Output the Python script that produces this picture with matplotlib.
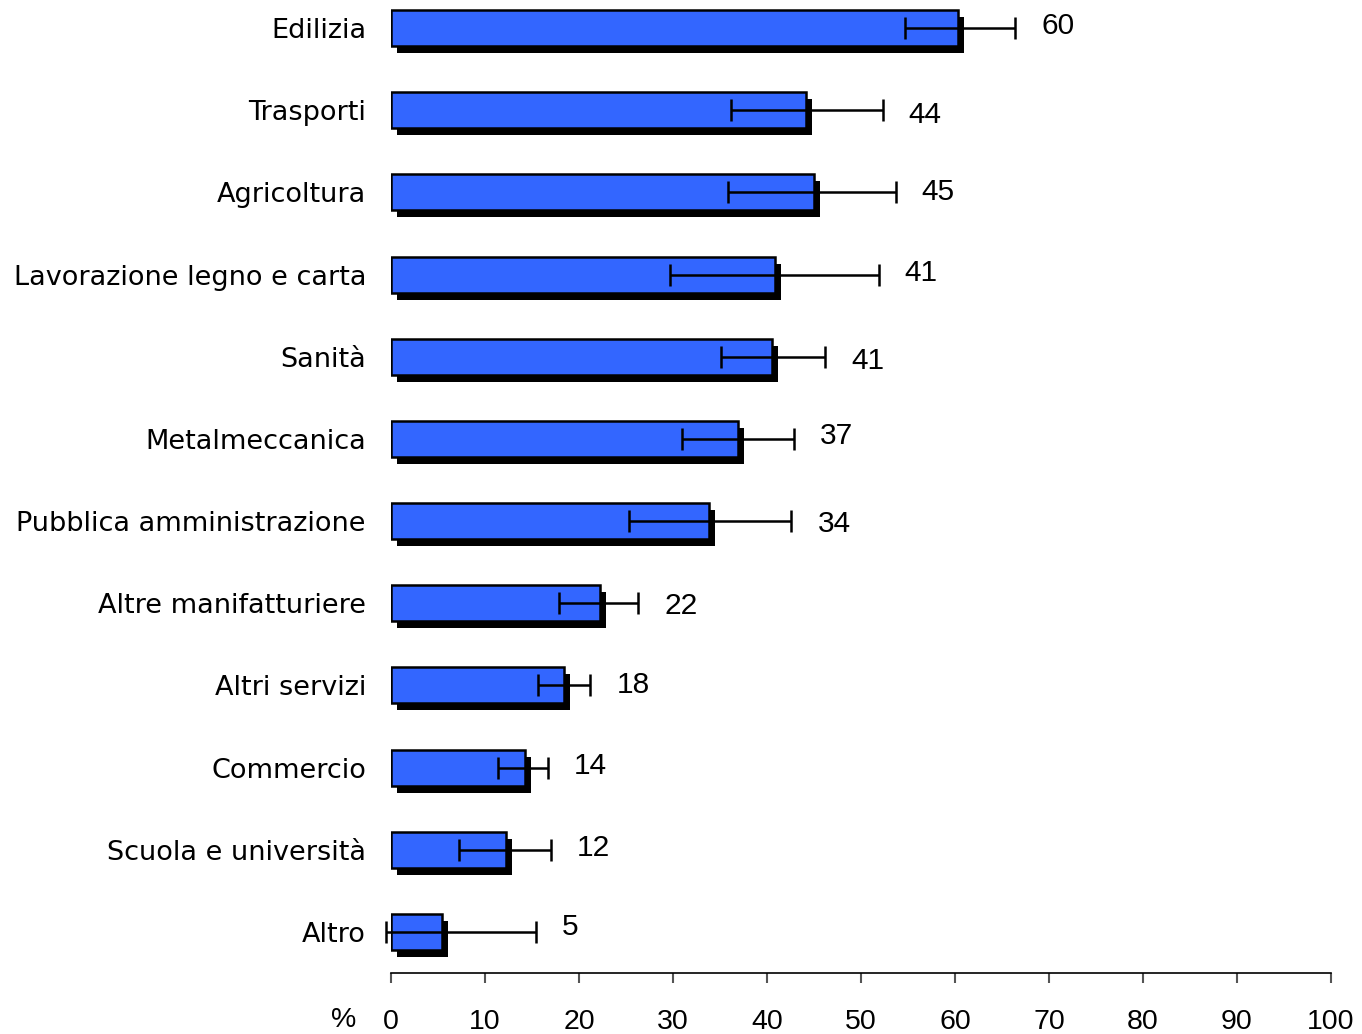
import matplotlib
matplotlib.use("Agg")
import matplotlib.pyplot as plt
from matplotlib.transforms import ScaledTranslation

categories = ["Edilizia", "Trasporti", "Agricoltura", "Lavorazione legno e carta",
              "Sanità", "Metalmeccanica", "Pubblica amministrazione",
              "Altre manifatturiere", "Altri servizi", "Commercio",
              "Scuola e università", "Altro"]
values = [60.3, 44.1, 45.0, 40.9, 40.5, 36.9, 33.8, 22.2, 18.4, 14.3, 12.2, 5.4]
err_low = [54.7, 36.2, 35.9, 29.7, 35.1, 31.0, 25.3, 17.9, 15.6, 11.4, 7.2, -0.5]
err_high = [66.4, 52.3, 53.7, 51.9, 46.2, 42.9, 42.6, 26.3, 21.2, 16.7, 17.0, 15.4]
labels = ["60", "44", "45", "41", "41", "37", "34", "22", "18", "14", "12", "5"]
xticks = list(range(0, 101, 10))

# small vertical nudges of the value labels (pixels, positive = down)
label_dy = [-2, 5, 0, -2, 4, -3, 3, 3, 0, -2, -2, -5]

plt.rcParams['font.family'] = ['DejaVu Sans']
num_font = ['Liberation Sans', 'DejaVu Sans']

fig = plt.figure(figsize=(13.62, 10.34), dpi=100)
ax = fig.add_axes([391/1362, 61/1034, 940/1362, 986/1034])

y = list(range(len(categories)))
h = 0.44
shadow_tr = ax.transData + ScaledTranslation(6/100, -7/100, fig.dpi_scale_trans)
ax.barh(y, values, height=h, color="black", transform=shadow_tr, zorder=1, clip_on=False)
ax.barh(y, values, height=h, color="#3366FF", edgecolor="black", linewidth=1.8, zorder=2)

for i in y:
    ax.errorbar([values[i]], [i],
                xerr=[[values[i] - err_low[i]], [err_high[i] - values[i]]],
                fmt="none", ecolor="black", elinewidth=1.8, capsize=8, capthick=1.8,
                zorder=3, clip_on=False)
    ax.annotate(labels[i], xy=(err_high[i], i), xytext=(26, -label_dy[i]),
                textcoords="offset pixels",
                va="center", ha="left", fontsize=21.5, color="black", family=num_font)

ax.set_xlim(0, 100)
ax.set_ylim(11.5, -0.5)
ax.set_yticks(y)
ax.set_yticklabels(categories, fontsize=19.5)
ax.tick_params(axis="y", length=0, pad=18)
ax.set_xticks(xticks)
ax.set_xticklabels([str(t) for t in xticks], fontsize=20.5, family=num_font)
ax.tick_params(axis="x", direction="out", length=7, width=1.5, color="#555555", pad=19)
for s in ["top", "right", "left"]:
    ax.spines[s].set_visible(False)
ax.spines["bottom"].set_linewidth(1.2)
fig.text(331/1362, 1 - 1020/1034, "%", fontsize=20.5, ha="left", va="center", family=num_font)

fig.savefig("out.png", dpi=100)
